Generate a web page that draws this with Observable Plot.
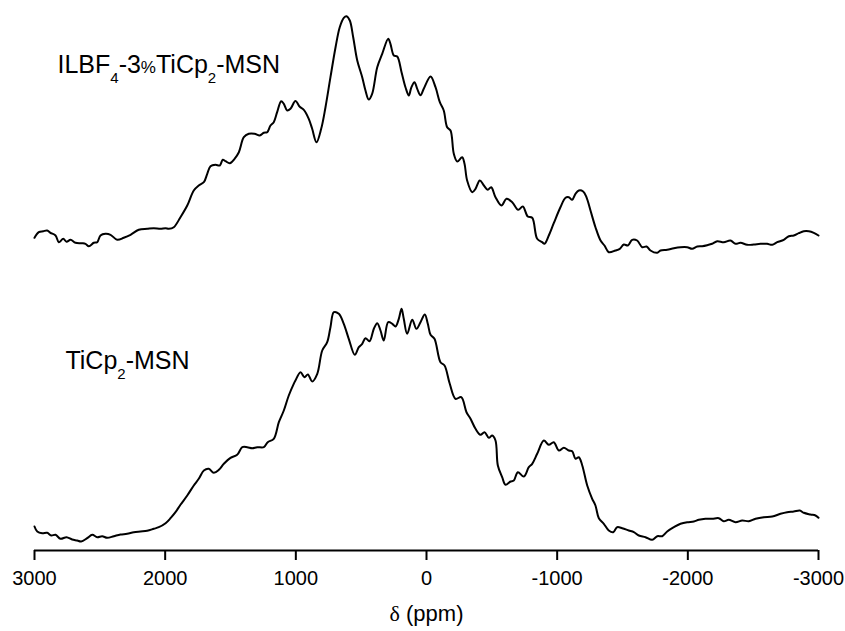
<!DOCTYPE html>
<html>
<head>
<meta charset="utf-8">
<script src="https://cdn.jsdelivr.net/npm/d3@7"></script>
<script src="https://cdn.jsdelivr.net/npm/@observablehq/plot@0.6"></script>
<style>
  html, body { margin: 0; padding: 0; background: #fff; }
  #chart { width: 845px; height: 631px; }
</style>
</head>
<body>
<div id="chart"></div>
<script>
// ---- Data (chemical shift in ppm, intensity in arbitrary units) ----
const xTicks = [3000, 2000, 1000, 0, -1000, -2000, -3000];
const xLabel = "δ (ppm)";

// Upper spectrum: ILBF4-3%TiCp2-MSN
const topName = "ILBF4-3%TiCp2-MSN";
const topPpm = [3000,2967,2933,2903,2878,2839,2814,2780,2755,2724,
  2686,2635,2610,2584,2546,2520,2495,2457,2418,2367,
  2317,2265,2202,2137,2087,2036,1997,1972,1934,1883,
  1831,1781,1743,1704,1678,1653,1615,1582,1559,1538,
  1505,1469,1436,1398,1360,1316,1276,1245,1219,1194,
  1169,1143,1112,1092,1066,1041,1003,970,939,901,
  875,842,806,773,735,696,664,633,612,587,
  561,530,492,467,442,416,377,339,293,276,
  250,224,191,161,135,117,92,71,46,21,
  -31,-69,-102,-132,-158,-184,-209,-235,-273,-291,
  -311,-350,-375,-408,-439,-469,-495,-528,-574,-612,
  -656,-702,-737,-775,-809,-847,-885,-903,-936,-974,
  -1025,-1064,-1089,-1115,-1140,-1166,-1199,-1224,-1255,-1293,
  -1332,-1362,-1395,-1446,-1479,-1510,-1541,-1574,-1612,-1651,
  -1684,-1714,-1766,-1791,-1842,-1893,-1944,-1995,-2033,-2072,
  -2110,-2148,-2186,-2225,-2275,-2326,-2365,-2403,-2454,-2505,
  -2556,-2607,-2646,-2684,-2734,-2773,-2811,-2849,-2887,-2926,
  -2964,-3000];
const topIntensity = [22.7,28.3,29.3,30,27.7,25,18.3,21.7,18.7,20.7,
  17.7,17.3,16.7,14.3,17.7,18.3,25,26.7,25.7,20.7,
  22.7,25.7,30.7,31.7,32.3,31.7,32.3,31.7,33.3,43.3,
  55,70,75,78.3,86.7,94.3,95.7,95,100.7,99.3,
  97.3,101.7,108.3,123.3,126.7,126.7,125,127.7,128.3,135,
  138.3,148.3,159.3,156.7,150,151.7,159.5,153.7,150.7,141.7,
  131.7,118.3,131.7,153.3,183.3,213.3,233.3,242.7,244.3,240,
  223.3,200,183.3,170,161,166.7,193.3,206.7,221.7,216.7,
  205,204,188.3,173.3,165,172.7,178.3,171.7,165.3,171.7,
  184,173.3,158.3,150,133.3,130,106.7,99,103.3,96.7,
  80,68.3,71.7,80,75,70.7,73.3,63.3,55,61.7,
  58.3,50.7,54,44,42.7,21.7,18.3,16.7,25,37.3,
  53.3,62.7,63.3,60.7,66.7,70,69,63.3,50,33.3,
  20,15,8.3,10,11.7,16,15,20.7,20,13.3,
  14,10,7.7,10,10.7,12.3,13.3,13.3,11.7,14,
  14.3,15.3,16.7,19.3,18.3,20,16.7,17.7,15.7,16,
  16.7,16.7,15.7,18.3,20.7,24.3,25,27.3,29.3,29.3,
  27.7,25];

// Lower spectrum: TiCp2-MSN
const bottomName = "TiCp2-MSN";
const bottomPpm = [3000,2979,2941,2903,2872,2839,2801,2755,2712,2673,
  2643,2597,2558,2520,2482,2444,2393,2342,2291,2240,
  2189,2138,2087,2049,1997,1959,1921,1883,1831,1781,
  1743,1704,1666,1628,1589,1551,1500,1449,1410,1372,
  1334,1296,1245,1215,1169,1130,1092,1054,1016,1003,
  964,934,908,875,836,798,760,735,709,671,
  633,595,549,518,492,467,436,403,377,352,
  327,293,262,237,212,191,174,148,109,77,
  46,13,-10,-31,-61,-107,-138,-178,-222,-266,
  -306,-337,-375,-413,-444,-477,-503,-528,-546,-579,
  -605,-643,-668,-699,-745,-783,-809,-847,-898,-936,
  -974,-1013,-1051,-1089,-1115,-1140,-1166,-1192,-1230,-1268,
  -1293,-1319,-1357,-1395,-1429,-1459,-1498,-1548,-1587,-1625,
  -1676,-1727,-1766,-1804,-1842,-1893,-1944,-1995,-2046,-2084,
  -2135,-2186,-2237,-2275,-2313,-2365,-2416,-2467,-2518,-2581,
  -2646,-2709,-2760,-2811,-2857,-2887,-2939,-2977,-3000];
const bottomIntensity = [24,19,17.3,17.7,15,15.7,11.7,13.3,11,10,
  9,12.3,15.7,13.3,14.3,12.7,14.3,16,16.7,18.3,
  19,19.7,21.7,23.3,27.3,32.3,38.3,45.7,55,65,
  71.7,80,81.7,77.7,80.7,86.7,92.7,95.7,103.3,103.3,
  102.3,103.3,103.3,108.3,111.7,128.3,140,155,166.7,170,
  178.3,173.3,176,169,176.7,200,208.3,223.3,238.3,236.7,
  226.7,211.7,195.7,203.3,206.7,212.3,209.3,221.7,227.3,220,
  210,228.3,226.7,224,231.7,241.7,231.7,216.7,230.7,221.7,
  228.3,236,226.7,215.7,211.7,188.3,185,166.7,151.7,153.3,
  138.3,131.7,121.7,115.7,118.3,112.7,115,110,85,73.3,
  65.7,69,70,78.3,74,83.3,86.7,96.7,110,105.7,
  108.3,100,102.7,100,99.3,91.7,93.3,85,65,51.7,
  45,32.3,26.7,20,18.3,23.3,22.3,20,18.3,15,
  13.3,10.7,14.3,14.3,19,23.3,26.7,28.3,29,30.7,
  31.7,31.7,32.3,29.3,30.7,28.3,30,29.3,31.7,33.3,
  34,36.7,38.3,39,40,37.7,36,35,32.7];

// ---- Presentation ----
const stackOffset = 290;   // vertical offset of the upper trace
const topData = topPpm.map((p, i) => ({ppm: p, v: topIntensity[i] + stackOffset}));
const bottomData = bottomPpm.map((p, i) => ({ppm: p, v: bottomIntensity[i]}));
const annotations = [
  {ppm: 2824, v: 188 + stackOffset, text: topName},
  {ppm: 2763, v: 182, text: bottomName}
];

const FONT = "'Liberation Sans', Arial, Helvetica, sans-serif";

const svg = Plot.plot({
  width: 845,
  height: 631,
  marginLeft: 34,
  marginRight: 27,
  marginTop: 0,
  marginBottom: 81,
  style: {background: "#fff", fontFamily: FONT, color: "#000"},
  x: {domain: [3000, -3000]},
  y: {domain: [0, 550], axis: null},
  marks: [
    Plot.ruleY([0], {stroke: "#000", strokeWidth: 2}),
    Plot.axisX({
      ticks: xTicks, tickSize: 10, tickPadding: 10, fontSize: 20,
      strokeWidth: 2, tickFormat: d => String(d), label: null
    }),
    Plot.line(bottomData, {x: "ppm", y: "v", stroke: "#000", strokeWidth: 2, curve: "catmull-rom"}),
    Plot.line(topData, {x: "ppm", y: "v", stroke: "#000", strokeWidth: 2, curve: "catmull-rom"}),
    Plot.text(annotations, {x: "ppm", y: "v", text: "text", textAnchor: "start", lineAnchor: "bottom", fontSize: 25, fill: "#000"}),
    Plot.text([xLabel], {frameAnchor: "bottom", dy: 70, lineAnchor: "bottom", fontSize: 22, fill: "#000"})
  ]
});

// Rich text: subscripts and symbol fonts
function rich(el, parts) {
  el.textContent = "";
  let shift = 0;
  for (const [s, kind] of parts) {
    const t = document.createElementNS("http://www.w3.org/2000/svg", "tspan");
    t.textContent = s;
    let target = 0;
    if (kind === "sub") { t.setAttribute("font-size", 15); target = 10; }
    if (kind === "small") { t.setAttribute("font-size", 17); }
    if (kind === "serif") { t.setAttribute("font-family", "'Liberation Serif', 'DejaVu Serif', serif"); }
    if (target !== shift) { t.setAttribute("dy", target - shift); shift = target; }
    el.appendChild(t);
  }
}
d3.select(svg).selectAll("text").each(function () {
  const s = this.textContent;
  if (s === topName) rich(this, [["ILBF"], ["4", "sub"], ["-3"], ["%", "small"], ["TiCp"], ["2", "sub"], ["-MSN"]]);
  else if (s === bottomName) rich(this, [["TiCp"], ["2", "sub"], ["-MSN"]]);
  else if (s === xLabel) rich(this, [["δ", "serif"], [" (ppm)"]]);
});

document.getElementById("chart").appendChild(svg);
</script>
</body>
</html>
